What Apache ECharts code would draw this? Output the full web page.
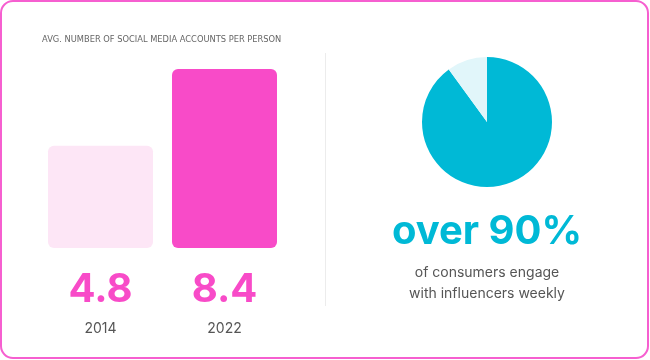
<!DOCTYPE html>
<html><head><meta charset="utf-8">
<script src="https://cdn.jsdelivr.net/npm/echarts@6/dist/echarts.min.js"></script>
<style>html,body{margin:0;padding:0;background:#fff}#c{width:650px;height:360px}</style>
</head><body><div id="c"></div>
<script>
const chartTitle = 'AVG. NUMBER OF SOCIAL MEDIA ACCOUNTS PER PERSON';
const years = ['2014', '2022'];
const accounts = [4.8, 8.4];
const pieNames = ['engage weekly', 'other'];
const pieValues = [90, 10];
const bigStat = 'over 90%';
const statLines = ['of consumers engage', 'with influencers weekly'];

const barColors = ['#fde6f6', '#f84bc8'];
const pink = '#f84bc8';
const cyan = '#00b9d6';
const font = 'Inter';

const chart = echarts.init(document.getElementById('c'));
chart.setOption({
  animation: false,
  backgroundColor: '#fff',
  title: {
    text: chartTitle, left: 42, top: 36, padding: 0,
    textStyle: { fontFamily: 'DejaVu Sans', fontSize: 8.3, fontWeight: 'normal', color: '#666' }
  },
  grid: { left: 38.5, width: 248, top: 69, bottom: 112 },
  xAxis: {
    type: 'category', data: years,
    axisLine: { show: false }, axisTick: { show: false },
    axisLabel: {
      margin: 22,
      formatter: (v, i) => '{v|' + accounts[i] + '}\n{y|' + v + '}',
      rich: {
        v: { fontFamily: font, fontSize: 40, fontWeight: 'bold', color: pink, lineHeight: 40 },
        y: { fontFamily: font, fontSize: 14, color: '#555', lineHeight: 26, verticalAlign: 'bottom' }
      }
    }
  },
  yAxis: { type: 'value', min: 0, max: 8.4, show: false, splitLine: { show: false } },
  series: [
    {
      type: 'bar', barWidth: 105,
      data: accounts.map((v, i) => ({ value: v, itemStyle: { color: barColors[i], borderRadius: 6 } }))
    },
    {
      type: 'pie', center: [487, 122], radius: 65, startAngle: 90, clockwise: true,
      label: { show: false }, labelLine: { show: false },
      itemStyle: { borderWidth: 0 },
      data: pieValues.map((v, i) => ({ name: pieNames[i], value: v, itemStyle: { color: i === 0 ? cyan : '#e1f6fa' } }))
    }
  ],
  graphic: [
    { type: 'rect', shape: { x: 1, y: 1, width: 647, height: 357, r: 12 }, style: { fill: 'none', stroke: '#f65fd0', lineWidth: 2 }, z: 100 },
    { type: 'line', shape: { x1: 325.5, y1: 53, x2: 325.5, y2: 306 }, style: { stroke: '#ececec', lineWidth: 1 } },
    { type: 'text', x: 487, y: 232, style: { text: bigStat, fontFamily: font, fontSize: 40, fontWeight: 'bold', fill: cyan, align: 'center', verticalAlign: 'middle' } },
    { type: 'text', x: 487, y: 273, style: { text: statLines[0], fontFamily: font, fontSize: 14, fill: '#555', align: 'center', verticalAlign: 'middle' } },
    { type: 'text', x: 487, y: 294, style: { text: statLines[1], fontFamily: font, fontSize: 14, fill: '#555', align: 'center', verticalAlign: 'middle' } }
  ]
});
</script></body></html>
